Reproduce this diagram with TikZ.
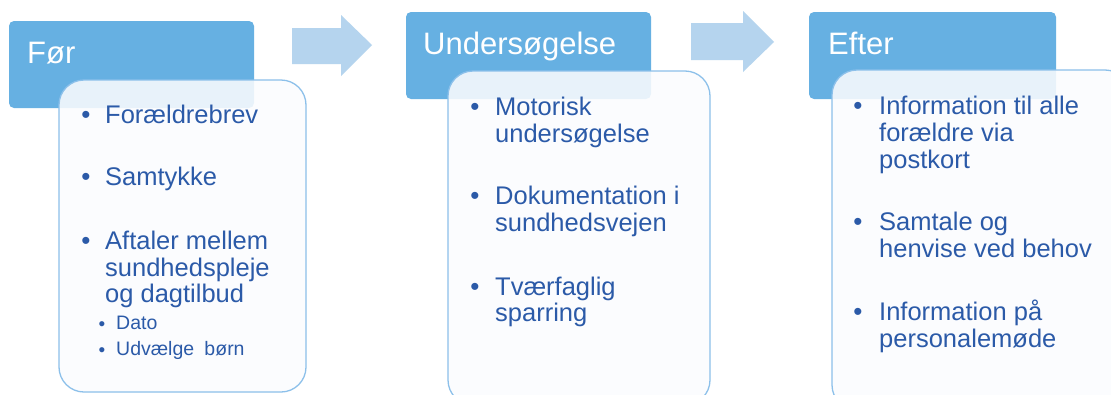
\documentclass[tikz,border=0pt]{standalone}
\usepackage{fontspec}
\setmainfont{Liberation Sans}
\definecolor{hdr}{RGB}{102,176,226}
\definecolor{arr}{RGB}{181,212,238}
\definecolor{txt}{RGB}{43,90,168}
\definecolor{bord}{RGB}{140,192,234}
\definecolor{boxfill}{RGB}{251,252,254}
\begin{document}
\begin{tikzpicture}[x=1pt,y=-1pt,
  hdrbox/.style={fill=hdr, rounded corners=5pt},
  cbox/.style={draw=bord, line width=1.3pt, fill=boxfill, fill opacity=0.88, rounded corners=25pt},
  arrowshape/.style={fill=arr},
  htext/.style={anchor=base west, inner sep=0pt, text=white, font=\fontsize{31}{37}\selectfont},
  btext/.style={anchor=base west, inner sep=0pt, text=txt, font=\fontsize{25.5}{27}\selectfont},
  stext/.style={anchor=base west, inner sep=0pt, text=txt, font=\fontsize{19.5}{24}\selectfont},
  bdot/.style={anchor=base, inner sep=0pt, text=txt, font=\fontsize{26}{28}\selectfont},
  sdot/.style={anchor=base, inner sep=0pt, text=txt, font=\fontsize{19}{21}\selectfont}
]
\useasboundingbox (0,0) rectangle (1111,394);
\clip (0,0) rectangle (1111,394);
\fill[white] (0,0) rectangle (1111,394);

% arrows
\fill[arrowshape] (292,28) -- (341,28) -- (341,15) -- (372,45) -- (341,76) -- (341,64) -- (292,64) -- cycle;
\fill[arrowshape] (691,23) -- (743,23) -- (743,11) -- (774,42) -- (743,72) -- (743,60) -- (691,60) -- cycle;

% column 1
\fill[hdrbox] (9,21) rectangle (254,108);
\draw[cbox] (59,80) rectangle (306,392);
\node[htext] (h1) at (27,63) {Før};
\node[bdot] (d1a) at (86,123.5) {•};
\node[bdot] (d1b) at (86,185.5) {•};
\node[bdot] (d1c) at (86,249.5) {•};
\node[btext] (t1a) at (105,123) {Forældrebrev};
\node[btext] (t1b) at (105,185) {Samtykke};
\node[btext] (t1c) at (105,249) {Aftaler mellem};
\node[btext] (t1d) at (105,276) {sundhedspleje};
\node[btext] (t1e) at (105,302) {og dagtilbud};
\node[sdot] (s1a) at (102,330) {•};
\node[sdot] (s1b) at (102,356) {•};
\node[stext] (u1a) at (116,329) {Dato};
\node[stext] (u1b) at (116,355) {Udvælge\hspace{0.25em} børn};

% column 2
\fill[hdrbox] (406,12) rectangle (651,99);
\draw[cbox] (448,71) rectangle (710,405);
\node[htext] (h2) at (423,54) {Undersøgelse};
\node[bdot] (d2a) at (475,115.5) {•};
\node[bdot] (d2b) at (475,204.5) {•};
\node[bdot] (d2c) at (475,295.5) {•};
\node[btext] (t2a) at (495,115) {Motorisk};
\node[btext] (t2b) at (495,142) {undersøgelse};
\node[btext] (t2c) at (495,204) {Dokumentation i};
\node[btext] (t2d) at (495,231) {sundhedsvejen};
\node[btext] (t2e) at (495,295) {Tværfaglig};
\node[btext] (t2f) at (495,321) {sparring};

% column 3
\fill[hdrbox] (809,12) rectangle (1056,99);
\draw[cbox] (832,70) rectangle (1130,410);
\node[htext] (h3) at (828,54) {Efter};
\node[bdot] (d3a) at (858,114.5) {•};
\node[bdot] (d3b) at (858,230.5) {•};
\node[bdot] (d3c) at (858,320.5) {•};
\node[btext] (t3a) at (879,114) {Information til alle};
\node[btext] (t3b) at (879,141) {forældre via};
\node[btext] (t3c) at (879,168) {postkort};
\node[btext] (t3d) at (879,230) {Samtale og};
\node[btext] (t3e) at (879,257) {henvise ved behov};
\node[btext] (t3f) at (879,320) {Information på};
\node[btext] (t3g) at (879,347) {personalemøde};
\end{tikzpicture}
\end{document}
